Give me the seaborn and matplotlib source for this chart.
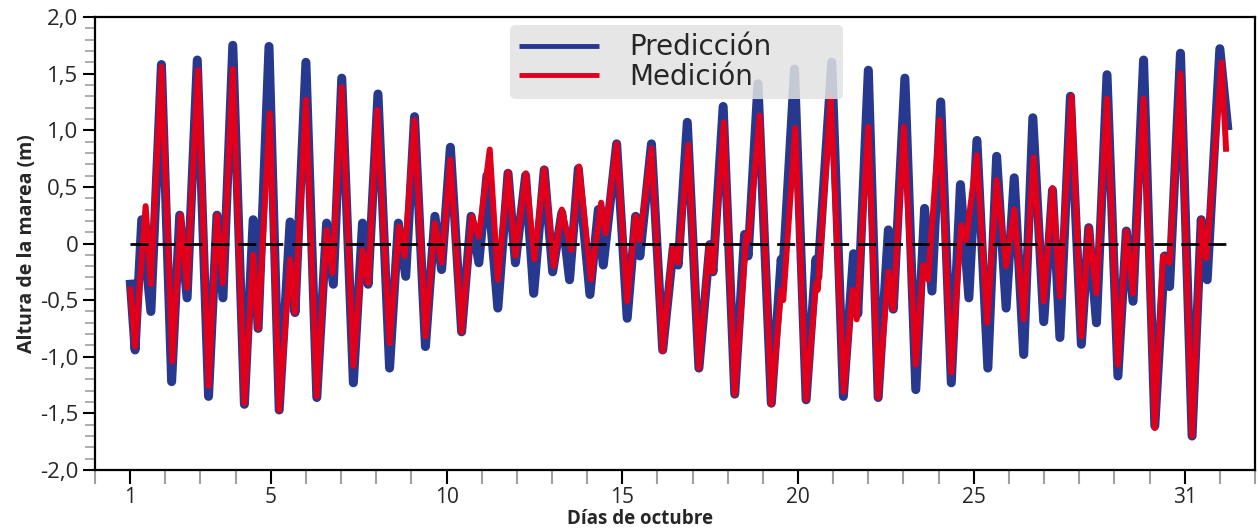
import matplotlib; matplotlib.use('Agg')
import matplotlib.pyplot as plt
from matplotlib.ticker import FixedLocator, MultipleLocator
import pandas as pd
import seaborn as sns

# highs/lows (day of October, tide height in m)
pred_day = [1.00, 1.14, 1.33, 1.59, 1.89, 2.18, 2.41, 2.62, 2.91, 3.23, 3.47, 3.64, 3.92, 4.25, 4.50, 4.64,
            4.95, 5.24, 5.55, 5.69, 6.00, 6.31, 6.59, 6.78, 7.02, 7.35, 7.61, 7.77, 8.05, 8.38, 8.63, 8.84,
            9.09, 9.40, 9.67, 9.86, 10.11, 10.43, 10.70, 10.92, 11.15, 11.46, 11.75, 11.96, 12.25, 12.48,
            12.78, 13.02, 13.28, 13.50, 13.75, 14.08, 14.32, 14.46, 14.84, 15.14, 15.38, 15.50, 15.83, 16.15,
            16.45, 16.59, 16.85, 17.18, 17.49, 17.58, 17.87, 18.20, 18.48, 18.58, 18.86, 19.24, 19.52, 19.57,
            19.90, 20.23, 20.51, 20.56, 20.96, 21.29, 21.58, 21.70, 22.00, 22.28, 22.57, 22.71, 23.04, 23.35,
            23.60, 23.81, 24.06, 24.36, 24.62, 24.86, 25.09, 25.40, 25.65, 25.92, 26.15, 26.42, 26.68, 26.99,
            27.24, 27.45, 27.75, 28.06, 28.27, 28.49, 28.79, 29.10, 29.34, 29.53, 29.83, 30.15, 30.43, 30.57,
            30.88, 31.21, 31.47, 31.64, 32.00, 32.23]
pred_h = [-0.32, -0.94, 0.21, -0.60, 1.58, -1.22, 0.25, -0.48, 1.62, -1.35, 0.25, -0.48, 1.75, -1.42, 0.21, -0.75,
          1.74, -1.47, 0.19, -0.61, 1.60, -1.36, 0.18, -0.36, 1.46, -1.23, 0.18, -0.36, 1.32, -1.10, 0.18, -0.29,
          1.12, -0.91, 0.24, -0.23, 0.85, -0.78, 0.24, -0.17, 0.60, -0.57, 0.62, -0.17, 0.60, -0.44,
          0.65, -0.25, 0.27, -0.32, 0.66, -0.45, 0.30, -0.19, 0.88, -0.66, 0.24, -0.11, 0.88, -0.94,
          -0.04, -0.19, 1.07, -1.10, -0.01, -0.25, 1.21, -1.33, 0.08, -0.11, 1.41, -1.41, -0.14, -0.25,
          1.54, -1.38, -0.14, -0.30, 1.60, -1.35, -0.09, -0.62, 1.53, -1.36, 0.12, -0.58, 1.46, -1.29,
          0.31, -0.42, 1.25, -1.23, 0.52, -0.48, 0.91, -1.10, 0.77, -0.57, 0.58, -0.98, 1.11, -0.69,
          0.47, -0.83, 1.30, -0.89, 0.14, -0.70, 1.49, -1.17, 0.11, -0.51, 1.62, -1.61, -0.11, -0.38,
          1.68, -1.70, 0.21, -0.32, 1.72, 1.00]

med_day = [1.00, 1.14, 1.44, 1.59, 1.89, 2.20, 2.44, 2.62, 2.93, 3.23, 3.47, 3.64, 3.92, 4.25, 4.50, 4.64,
           4.97, 5.24, 5.55, 5.69, 6.00, 6.31, 6.59, 6.76, 7.02, 7.35, 7.61, 7.77, 8.03, 8.38, 8.65, 8.81,
           9.09, 9.40, 9.67, 9.86, 10.11, 10.43, 10.72, 10.92, 11.23, 11.46, 11.75, 11.96, 12.26, 12.50,
           12.78, 13.05, 13.28, 13.55, 13.77, 14.11, 14.40, 14.53, 14.84, 15.14, 15.38, 15.50, 15.83, 16.15,
           16.43, 16.59, 16.88, 17.18, 17.47, 17.58, 17.89, 18.20, 18.53, 18.59, 18.91, 19.24, 19.52, 19.58,
           19.92, 20.23, 20.51, 20.56, 20.93, 21.30, 21.55, 21.67, 22.00, 22.28, 22.57, 22.71, 23.01, 23.35,
           23.56, 23.70, 24.03, 24.36, 24.64, 24.78, 25.09, 25.38, 25.65, 25.92, 26.15, 26.42, 26.70, 26.99,
           27.24, 27.45, 27.78, 28.06, 28.27, 28.49, 28.79, 29.10, 29.34, 29.53, 29.83, 30.15, 30.38, 30.57,
           30.88, 31.21, 31.47, 31.62, 32.05, 32.18]
med_h = [-0.38, -0.91, 0.33, -0.36, 1.56, -1.04, 0.25, -0.39, 1.53, -1.26, 0.25, -0.35, 1.54, -1.41, -0.10, -0.75,
         1.15, -1.47, -0.14, -0.61, 1.27, -1.35, 0.12, -0.26, 1.38, -1.08, -0.06, -0.35, 1.18, -0.88, 0.15, -0.11,
         1.09, -0.82, 0.18, -0.17, 0.74, -0.78, 0.24, 0.06, 0.83, -0.32, 0.63, -0.11, 0.62, -0.14,
         0.66, -0.20, 0.30, -0.06, 0.68, -0.32, 0.36, 0.09, 0.88, -0.51, 0.24, 0.03, 0.84, -0.95,
         -0.04, -0.17, 0.87, -1.10, -0.01, -0.25, 1.07, -1.33, 0.08, 0.03, 1.13, -1.42, -0.41, -0.50,
         1.02, -1.38, -0.35, -0.41, 1.30, -1.31, -0.41, -0.67, 1.03, -1.36, -0.25, -0.58, 1.03, -1.07,
         -0.19, -0.32, 1.09, -1.14, 0.16, 0.03, 0.78, -0.70, 0.56, -0.20, 0.30, -0.67, 0.76, -0.51,
         0.49, -0.47, 1.30, -0.82, 0.14, -0.44, 1.28, -1.07, 0.11, -0.44, 1.28, -1.63, -0.11, -0.17,
         1.50, -1.70, 0.21, -0.13, 1.60, 0.81]

x_major = [1, 5, 10, 15, 20, 25, 31]
y_ticks = [2.0, 1.5, 1.0, 0.5, 0.0, -0.5, -1.0, -1.5, -2.0]
y_labels = ["2,0", "1,5", "1,0", "0,5", "0", "-0,5", "-1,0", "-1,5", "-2,0"]

sns.set_style("ticks")
plt.rcParams['font.family'] = ['Open Sans', 'DejaVu Sans']

BLUE = '#26398f'
RED = '#e1001b'

fig = plt.figure(figsize=(12.58, 5.29), dpi=100)
ax = fig.add_axes([95/1258, 1-470/529, 1160/1258, 453/529])

pred = pd.DataFrame({'dia': pred_day, 'altura': pred_h})
med = pd.DataFrame({'dia': med_day, 'altura': med_h})
sns.lineplot(data=pred, x='dia', y='altura', color=BLUE, linewidth=6.5, ax=ax, label='Predicción',
             sort=False, estimator=None, solid_joinstyle='round', solid_capstyle='butt', zorder=2)
sns.lineplot(data=med, x='dia', y='altura', color=RED, linewidth=4.3, ax=ax, label='Medición',
             sort=False, estimator=None, solid_joinstyle='round', solid_capstyle='butt', zorder=3)
ax.hlines(0, 1, 32.2, colors='black', linewidth=2, linestyles=(0, (6.5, 3.2)), zorder=4)

ax.set_xlim(0, 33)
ax.set_ylim(-2, 2)
ax.xaxis.set_major_locator(FixedLocator(x_major))
ax.xaxis.set_minor_locator(MultipleLocator(1))
ax.set_yticks(y_ticks)
ax.set_yticklabels(y_labels)
ax.yaxis.set_minor_locator(MultipleLocator(0.1))
ax.tick_params(axis='x', which='major', length=10, width=1.5, color='black', labelsize=15, pad=2)
ax.tick_params(axis='x', which='minor', length=10, width=1.5, color='#a0a0a0')
ax.tick_params(axis='y', which='major', length=9, width=1.5, color='black', labelsize=16, pad=3)
ax.tick_params(axis='y', which='minor', length=7, width=1.2, color='#a0a0a0')
for s in ax.spines.values():
    s.set_linewidth(1.6); s.set_color('black')

ax.set_xlabel('Días de octubre', fontsize=13.5, fontweight='bold')
ax.xaxis.set_label_coords(0.47, -0.086)
ax.set_ylabel('Altura de la marea (m)', fontsize=14, fontweight='bold', labelpad=2)

leg = ax.legend(loc='upper left', bbox_to_anchor=(0.358, 0.5, 0.287, 0.482), mode='expand', borderaxespad=0,
                prop={'family': 'DejaVu Sans', 'size': 20},
                handlelength=2.9, handletextpad=1.1, borderpad=0.3, labelspacing=0.05,
                fancybox=True, framealpha=0.85, facecolor='#e2e2e2', edgecolor='none')
leg.set_zorder(10)
for ln in leg.get_lines():
    ln.set_linewidth(3.5)

fig.savefig('out.png', dpi=100)
